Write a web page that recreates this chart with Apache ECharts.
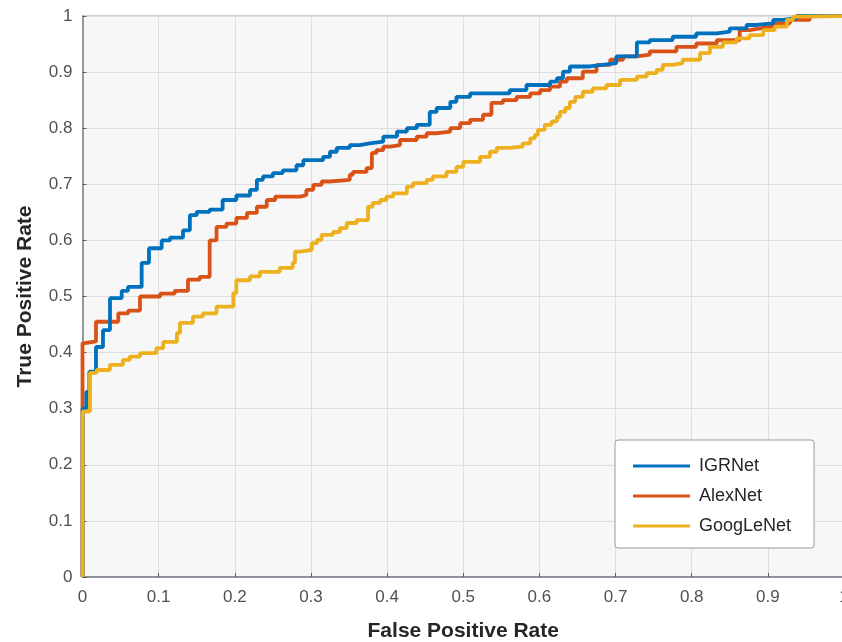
<!DOCTYPE html>
<html>
<head>
<meta charset="utf-8">
<script src="https://cdn.jsdelivr.net/npm/echarts@6/dist/echarts.min.js"></script>
<style>
html,body{margin:0;padding:0;background:#ffffff;overflow:hidden;}
#chart{width:842px;height:642px;}
</style>
</head>
<body>
<div id="chart"></div>
<script>
// ---- Data ----
var seriesNames = ['IGRNet', 'AlexNet', 'GoogLeNet'];
var xTickValues = [0, 0.1, 0.2, 0.3, 0.4, 0.5, 0.6, 0.7, 0.8, 0.9, 1];
var yTickValues = [0, 0.1, 0.2, 0.3, 0.4, 0.5, 0.6, 0.7, 0.8, 0.9, 1];

var fprIGRNet = [0, 0, 0.005, 0.009, 0.0177, 0.0269, 0.0361, 0.0515, 0.0597, 0.0777, 0.0873, 0.104, 0.115, 0.132, 0.141, 0.150, 0.167, 0.184, 0.202, 0.220, 0.229, 0.237, 0.250, 0.263, 0.281, 0.290, 0.316, 0.325, 0.334, 0.351, 0.364, 0.377, 0.395, 0.413, 0.426, 0.439, 0.456, 0.465, 0.483, 0.491, 0.509, 0.561, 0.583, 0.614, 0.623, 0.631, 0.640, 0.666, 0.683, 0.701, 0.728, 0.745, 0.775, 0.806, 0.833, 0.850, 0.872, 0.885, 0.907, 0.920, 0.938, 1];
var tprIGRNet = [0, 0.30, 0.33, 0.366, 0.41, 0.44, 0.497, 0.51, 0.517, 0.56, 0.586, 0.60, 0.605, 0.618, 0.645, 0.651, 0.655, 0.672, 0.68, 0.69, 0.708, 0.714, 0.72, 0.725, 0.734, 0.743, 0.749, 0.758, 0.765, 0.77, 0.773, 0.776, 0.785, 0.794, 0.80, 0.806, 0.829, 0.836, 0.847, 0.856, 0.862, 0.868, 0.877, 0.883, 0.889, 0.901, 0.91, 0.913, 0.916, 0.928, 0.953, 0.957, 0.963, 0.969, 0.972, 0.978, 0.984, 0.987, 0.993, 0.996, 1.0, 1.0];

var fprAlexNet = [0, 0, 0.003, 0.0177, 0.047, 0.060, 0.0755, 0.102, 0.121, 0.1385, 0.154, 0.167, 0.176, 0.189, 0.202, 0.216, 0.229, 0.242, 0.253, 0.286, 0.294, 0.303, 0.314, 0.325, 0.351, 0.355, 0.373, 0.380, 0.386, 0.395, 0.404, 0.417, 0.439, 0.452, 0.465, 0.483, 0.496, 0.509, 0.526, 0.537, 0.552, 0.570, 0.588, 0.601, 0.614, 0.627, 0.636, 0.657, 0.675, 0.693, 0.710, 0.728, 0.745, 0.780, 0.806, 0.833, 0.863, 0.876, 0.890, 0.907, 0.929, 0.955, 1];
var tprAlexNet = [0, 0.417, 0.42, 0.455, 0.47, 0.475, 0.50, 0.505, 0.51, 0.53, 0.535, 0.60, 0.624, 0.63, 0.64, 0.649, 0.66, 0.672, 0.678, 0.681, 0.69, 0.699, 0.705, 0.708, 0.717, 0.722, 0.729, 0.756, 0.761, 0.767, 0.77, 0.779, 0.785, 0.791, 0.794, 0.80, 0.809, 0.815, 0.824, 0.845, 0.85, 0.856, 0.862, 0.868, 0.874, 0.883, 0.889, 0.901, 0.913, 0.922, 0.928, 0.931, 0.937, 0.945, 0.951, 0.957, 0.975, 0.978, 0.981, 0.987, 0.993, 1.0, 1.0];

var fprGoogLeNet = [0, 0, 0.0098, 0.0186, 0.036, 0.053, 0.062, 0.0755, 0.097, 0.106, 0.124, 0.128, 0.145, 0.158, 0.176, 0.198, 0.202, 0.220, 0.233, 0.259, 0.276, 0.279, 0.286, 0.301, 0.308, 0.314, 0.329, 0.338, 0.347, 0.360, 0.375, 0.381, 0.391, 0.399, 0.408, 0.426, 0.434, 0.452, 0.460, 0.478, 0.491, 0.500, 0.522, 0.535, 0.544, 0.561, 0.578, 0.588, 0.594, 0.598, 0.607, 0.616, 0.623, 0.627, 0.634, 0.640, 0.647, 0.657, 0.670, 0.688, 0.706, 0.728, 0.741, 0.754, 0.762, 0.775, 0.788, 0.811, 0.824, 0.841, 0.859, 0.876, 0.894, 0.909, 0.925, 0.933, 0.942, 1];
var tprGoogLeNet = [0, 0.295, 0.364, 0.369, 0.378, 0.387, 0.393, 0.399, 0.408, 0.419, 0.435, 0.453, 0.464, 0.47, 0.482, 0.506, 0.529, 0.536, 0.544, 0.551, 0.56, 0.58, 0.583, 0.595, 0.601, 0.61, 0.615, 0.622, 0.631, 0.636, 0.66, 0.667, 0.672, 0.678, 0.684, 0.696, 0.702, 0.708, 0.714, 0.722, 0.731, 0.74, 0.749, 0.758, 0.765, 0.767, 0.773, 0.782, 0.788, 0.797, 0.806, 0.812, 0.82, 0.829, 0.836, 0.847, 0.856, 0.865, 0.871, 0.877, 0.886, 0.892, 0.898, 0.904, 0.913, 0.916, 0.922, 0.934, 0.945, 0.953, 0.96, 0.966, 0.975, 0.981, 0.993, 0.999, 1.0, 1.0];

var seriesColors = ['#0072BD', '#D95319', '#EDB120'];

function zip(xs, ys) {
  var out = [];
  for (var i = 0; i < xs.length; i++) out.push([xs[i], ys[i]]);
  return out;
}

var chart = echarts.init(document.getElementById('chart'), null, {renderer: 'canvas'});
var fontFam = '"Liberation Sans", Arial, Helvetica, sans-serif';

function tickFmt(list) {
  return function (v) {
    var r = Math.round(v * 10) / 10;
    return list.indexOf(r) >= 0 ? String(r) : '';
  };
}

var option = {
  animation: false,
  backgroundColor: '#ffffff',
  grid: {
    left: 82.5, right: -2, top: 16, bottom: 65,
    outerBoundsMode: 'none',
    show: true, backgroundColor: '#f7f7f7', borderColor: '#a0a0a8', borderWidth: 1,
    containLabel: false
  },
  xAxis: {
    type: 'value', min: 0, max: 1, interval: 0.1,
    name: 'False Positive Rate', nameLocation: 'middle', nameGap: 44,
    nameTextStyle: {fontFamily: fontFam, fontSize: 21, fontWeight: 'bold', color: '#262626'},
    axisLine: {show: true, lineStyle: {color: '#7a7a86', width: 1.5}},
    axisTick: {show: true, inside: true, length: 4, lineStyle: {color: '#5a5a70'}},
    axisLabel: {fontFamily: fontFam, fontSize: 17, color: '#505050', margin: 12, formatter: tickFmt(xTickValues)},
    splitLine: {show: true, lineStyle: {color: '#dedede', width: 1}}
  },
  yAxis: {
    type: 'value', min: 0, max: 1, interval: 0.1,
    name: 'True Positive Rate', nameLocation: 'middle', nameGap: 47,
    nameTextStyle: {fontFamily: fontFam, fontSize: 21, fontWeight: 'bold', color: '#262626'},
    axisLine: {show: true, lineStyle: {color: '#7a7a86', width: 1.5}},
    axisTick: {show: true, inside: true, length: 4, lineStyle: {color: '#5a5a70'}},
    axisLabel: {fontFamily: fontFam, fontSize: 17, color: '#505050', margin: 10, formatter: tickFmt(yTickValues)},
    splitLine: {show: true, lineStyle: {color: '#dedede', width: 1}}
  },
  legend: {
    orient: 'vertical',
    left: 615, top: 440,
    data: seriesNames,
    backgroundColor: '#ffffff',
    borderColor: '#9a9a9a', borderWidth: 1, borderRadius: 3,
    padding: [17, 23, 13, 18],
    itemGap: 12,
    itemWidth: 57, itemHeight: 3,
    icon: 'rect',
    textStyle: {fontFamily: fontFam, fontSize: 18, color: '#262626', padding: [0, 0, 0, 4], lineHeight: 18}
  },
  series: [
    {name: seriesNames[0], type: 'line', step: 'end', symbol: 'none', z: 3,
     lineStyle: {width: 3.8, color: seriesColors[0]}, itemStyle: {color: seriesColors[0]},
     data: zip(fprIGRNet, tprIGRNet)},
    {name: seriesNames[1], type: 'line', step: 'end', symbol: 'none', z: 2,
     lineStyle: {width: 3.8, color: seriesColors[1]}, itemStyle: {color: seriesColors[1]},
     data: zip(fprAlexNet, tprAlexNet)},
    {name: seriesNames[2], type: 'line', step: 'end', symbol: 'none', z: 4,
     lineStyle: {width: 3.8, color: seriesColors[2]}, itemStyle: {color: seriesColors[2]},
     data: zip(fprGoogLeNet, tprGoogLeNet)}
  ]
};
chart.setOption(option);
</script>
</body>
</html>
